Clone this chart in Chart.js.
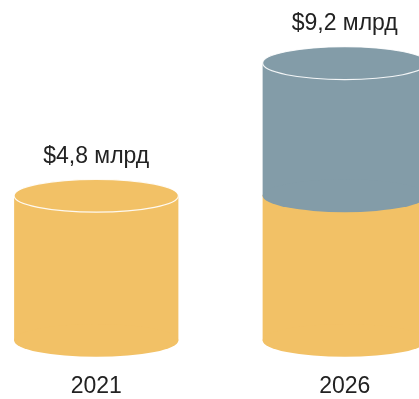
<!DOCTYPE html>
<html>
<head>
<meta charset="utf-8">
<script src="https://cdn.jsdelivr.net/npm/chart.js@4"></script>
<style>
  html, body { margin: 0; padding: 0; background: #fff; overflow: hidden; }
  #wrap { position: absolute; left: -28px; top: 0; width: 497px; height: 399px; }
</style>
</head>
<body>
<div id="wrap"><canvas id="myChart"></canvas></div>
<script>
// данные
const years = ['2021', '2026'];
const baseValues = [4.8, 4.8];
const growthValues = [0, 4.4];
const totalLabels = ['$4,8 млрд', '$9,2 млрд'];

const gold = '#F2C166';
const grey = '#839CA8';

// рисуем бары как цилиндры
const cylinderPlugin = {
    id: 'cylinders',
    beforeDatasetsDraw(chart) {
        const ctx = chart.ctx;
        const n = chart.data.datasets.length;
        chart.data.datasets.forEach((ds, di) => {
            const meta = chart.getDatasetMeta(di);
            meta.data.forEach((bar, i) => {
                if (!ds.data[i]) return;
                const p = bar.getProps(['x', 'y', 'base', 'width'], true);
                const rx = p.width / 2;
                const ry = p.width * 0.1;
                ctx.save();
                ctx.fillStyle = ds.backgroundColor;
                ctx.fillRect(p.x - rx, p.y, p.width, p.base - p.y);
                ctx.beginPath();
                ctx.ellipse(p.x, p.base, rx, ry, 0, 0, Math.PI * 2);
                ctx.fill();
                ctx.beginPath();
                ctx.ellipse(p.x, p.y, rx, ry, 0, 0, Math.PI * 2);
                ctx.fill();
                // верхняя крышка только у верхнего сегмента
                let isTop = true;
                for (let k = di + 1; k < n; k++) {
                    if (chart.data.datasets[k].data[i]) isTop = false;
                }
                if (isTop) {
                    ctx.strokeStyle = 'rgba(255,255,255,0.9)';
                    ctx.lineWidth = 1.2;
                    ctx.stroke();
                    ctx.fillStyle = '#222';
                    ctx.font = '23px "Liberation Sans", Arial, sans-serif';
                    ctx.textAlign = 'center';
                    ctx.textBaseline = 'alphabetic';
                    ctx.fillText(totalLabels[i], p.x, p.y - 33);
                }
                ctx.restore();
            });
        });
        return false;
    }
};

new Chart(document.getElementById('myChart'), {
    type: 'bar',
    data: {
        labels: years,
        datasets: [
            { label: 'base', data: baseValues, backgroundColor: gold },
            { label: 'growth', data: growthValues, backgroundColor: grey }
        ]
    },
    options: {
        responsive: true,
        maintainAspectRatio: false,
        animation: false,
        layout: { padding: { top: 39, bottom: -25, left: 0, right: 0 } },
        datasets: { bar: { categoryPercentage: 1, barPercentage: 0.661 } },
        plugins: { legend: { display: false }, tooltip: { enabled: false } },
        scales: {
            x: {
                stacked: true,
                grid: { display: false },
                border: { display: false },
                ticks: {
                    color: '#222',
                    padding: 24,
                    font: { size: 23, family: '"Liberation Sans", Arial, sans-serif' }
                }
            },
            y: {
                stacked: true,
                display: false,
                min: 0,
                max: 10
            }
        }
    },
    plugins: [cylinderPlugin]
});
</script>
</body>
</html>
